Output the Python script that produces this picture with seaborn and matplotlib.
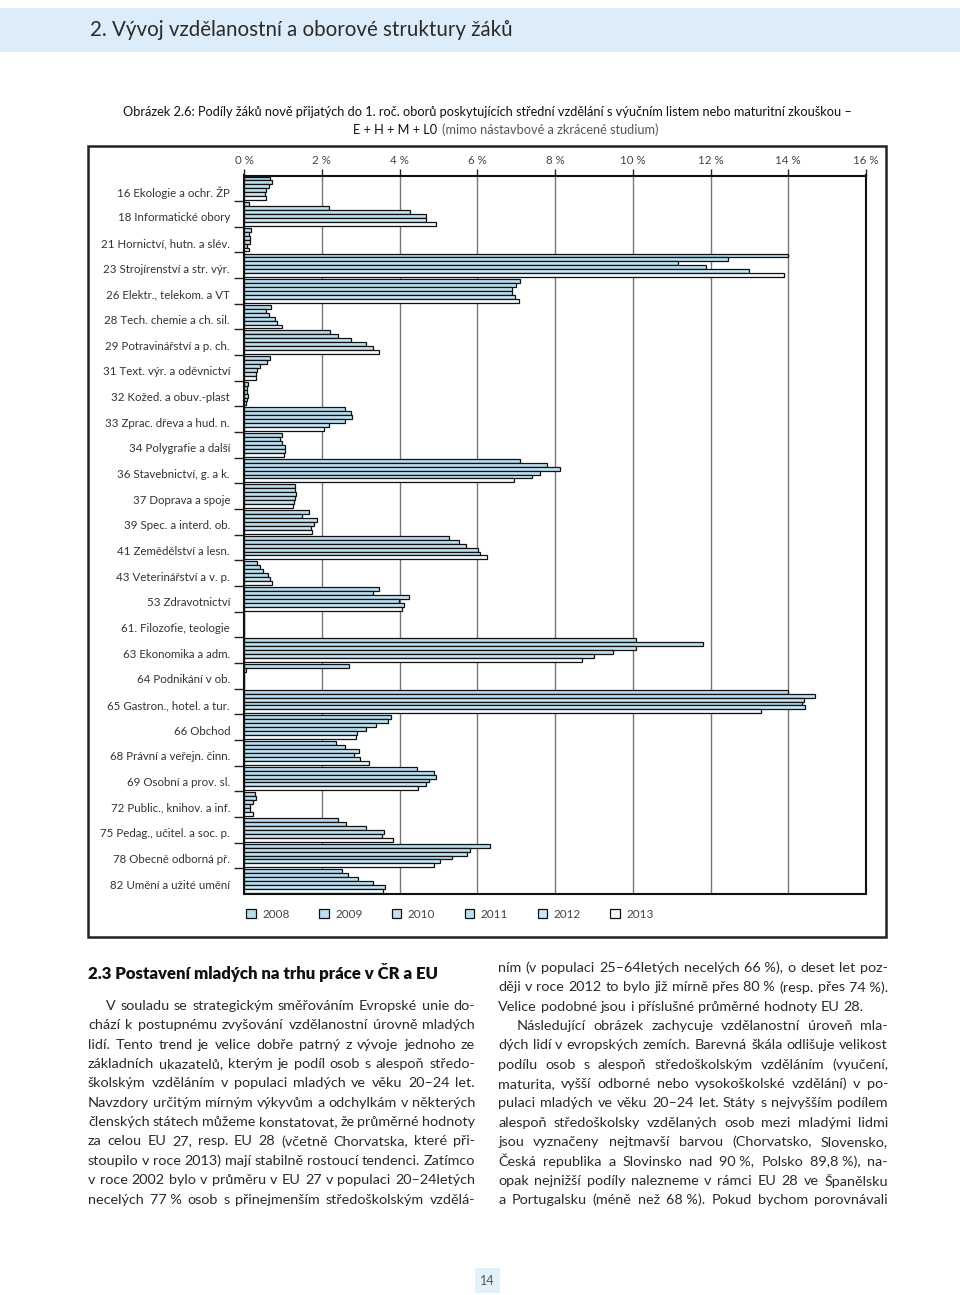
import matplotlib
matplotlib.use("Agg")
import matplotlib.pyplot as plt
import pandas as pd
import seaborn as sns
from matplotlib.patches import Rectangle
from matplotlib.transforms import ScaledTranslation

# --- data ---
obory = [
    "16 Ekologie a ochr. ŽP", "18 Informatické obory", "21 Hornictví, hutn. a slév.",
    "23 Strojírenství a str. výr.", "26 Elektr., telekom. a VT", "28 Tech. chemie a ch. sil.",
    "29 Potravinářství a p. ch.", "31 Text. výr. a oděvnictví", "32 Kožed. a obuv.-plast",
    "33 Zprac. dřeva a hud. n.", "34 Polygrafie a další", "36 Stavebnictví, g. a k.",
    "37 Doprava a spoje", "39 Spec. a interd. ob.", "41 Zemědělství a lesn.",
    "43 Veterinářství a v. p.", "53 Zdravotnictví", "61. Filozofie, teologie",
    "63 Ekonomika a adm.", "64 Podnikání v ob.", "65 Gastron., hotel. a tur.",
    "66 Obchod", "68 Právní a veřejn. činn.", "69 Osobní a prov. sl.",
    "72 Public., knihov. a inf.", "75 Pedag., učitel. a soc. p.", "78 Obecně odborná př.",
    "82 Umění a užité umění",
]
roky = ["2008", "2009", "2010", "2011", "2012", "2013"]

p2008 = [0.67, 0.13, 0.19, 14.0, 7.10, 0.69, 2.21, 0.67, 0.11, 2.60, 0.99, 7.10, 1.32, 1.68,
         5.27, 0.34, 3.48, 0.0, 10.08, 2.69, 14.0, 3.77, 2.36, 4.46, 0.29, 2.43, 6.32, 2.53]
p2009 = [0.72, 2.19, 0.13, 12.44, 7.00, 0.57, 2.42, 0.58, 0.085, 2.75, 0.92, 7.79, 1.30, 1.49,
         5.53, 0.41, 3.33, 0.0, 11.8, 0.04, 14.7, 3.71, 2.61, 4.88, 0.30, 2.63, 5.81, 2.67]
p2010 = [0.64, 4.28, 0.16, 11.16, 6.90, 0.64, 2.76, 0.42, 0.085, 2.79, 0.99, 8.12, 1.35, 1.87,
         5.71, 0.48, 4.24, 0.0, 10.08, 0.0, 14.4, 3.39, 2.96, 4.93, 0.24, 3.14, 5.74, 2.94]
p2011 = [0.57, 4.68, 0.15, 11.88, 6.90, 0.81, 3.13, 0.33, 0.095, 2.61, 1.06, 7.61, 1.31, 1.80,
         6.01, 0.62, 3.99, 0.0, 9.5, 0.0, 14.35, 3.15, 2.84, 4.76, 0.15, 3.59, 5.35, 3.33]
p2012 = [0.53, 4.68, 0.09, 13.0, 6.97, 0.85, 3.33, 0.32, 0.07, 2.19, 1.06, 7.40, 1.29, 1.72,
         6.07, 0.67, 4.11, 0.0, 9.0, 0.0, 14.42, 2.90, 2.99, 4.68, 0.16, 3.56, 5.04, 3.63]
p2013 = [0.57, 4.93, 0.13, 13.9, 7.07, 0.99, 3.48, 0.30, 0.05, 2.07, 1.03, 6.94, 1.26, 1.74,
         6.25, 0.72, 4.07, 0.0, 8.7, 0.0, 13.3, 2.87, 3.22, 4.48, 0.24, 3.82, 4.89, 3.57]

barvy = ["#b7dcef", "#bcdff1", "#c3e3f3", "#bcdff0", "#c8e6f5", "#f3f9fd"]

levy_sloupec = [
    "V souladu se strategickým směřováním Evropské unie do-",
    "chází k postupnému zvyšování vzdělanostní úrovně mladých",
    "lidí. Tento trend je velice dobře patrný z vývoje jednoho ze",
    "základních ukazatelů, kterým je podíl osob s alespoň středo-",
    "školským vzděláním v populaci mladých ve věku 20–24 let.",
    "Navzdory určitým mírným výkyvům a odchylkám v některých",
    "členských státech můžeme konstatovat, že průměrné hodnoty",
    "za celou EU 27, resp. EU 28 (včetně Chorvatska, které při-",
    "stoupilo v roce 2013) mají stabilně rostoucí tendenci. Zatímco",
    "v roce 2002 bylo v průměru v EU 27 v populaci 20–24letých",
    "necelých 77\u00a0% osob s přinejmenším středoškolským vzdělá-",
]
pravy_sloupec = [
    "ním (v populaci 25–64letých necelých 66\u00a0%), o deset let poz-",
    "ději v roce 2012 to bylo již mírně přes 80\u00a0% (resp. přes 74\u00a0%).",
    "Velice podobné jsou i příslušné průměrné hodnoty EU 28.",
    "Následující obrázek zachycuje vzdělanostní úroveň mla-",
    "dých lidí v evropských zemích. Barevná škála odlišuje velikost",
    "podílu osob s alespoň středoškolským vzděláním (vyučení,",
    "maturita, vyšší odborné nebo vysokoškolské vzdělání) v po-",
    "pulaci mladých ve věku 20–24 let. Státy s nejvyšším podílem",
    "alespoň středoškolsky vzdělaných osob mezi mladými lidmi",
    "jsou vyznačeny nejtmavší barvou (Chorvatsko, Slovensko,",
    "Česká republika a Slovinsko nad 90\u00a0%, Polsko 89,8\u00a0%), na-",
    "opak nejnižší podíly nalezneme v rámci EU 28 ve Španělsku",
    "a Portugalsku (méně než 68\u00a0%). Pokud bychom porovnávali",
]

W, H = 960, 1295
sns.set_theme(style="white")
plt.rcParams["font.family"] = ["Lato", "DejaVu Sans"]

df = pd.DataFrame({"obor": obory * 6,
                   "rok": sum([[r] * len(obory) for r in roky], []),
                   "podil": p2008 + p2009 + p2010 + p2011 + p2012 + p2013})

fig = plt.figure(figsize=(W / 100, H / 100), dpi=100)


def fx(x):
    return x / W


def fy(y):
    return 1 - y / H


# header band + page number
fig.add_artist(Rectangle((0, fy(52)), 1, 44 / H, transform=fig.transFigure,
                         color="#dcedf9", lw=0, zorder=0))
fig.text(fx(90), fy(30), "2. Vývoj vzdělanostní a oborové struktury žáků",
         fontsize=14.8, color="#2a2a2a", va="center")
fig.add_artist(Rectangle((fx(475), fy(1293)), 25 / W, 25 / H, transform=fig.transFigure,
                         color="#e2f0fa", lw=0))
fig.text(fx(487.5), fy(1281), "14", fontsize=9, color="#555", ha="center", va="center")

# caption
fig.text(fx(487), fy(112), "Obrázek 2.6: Podíly žáků nově přijatých do 1. roč. oborů poskytujících "
         "střední vzdělání s výučním listem nebo maturitní zkouškou –",
         fontsize=9.2, color="#111", ha="center", va="center")
fig.text(fx(437), fy(130), "E + H + M + L0", fontsize=9.2, color="#111", ha="right", va="center")
fig.text(fx(442), fy(130), "(mimo nástavbové a zkrácené studium)", fontsize=9.2,
         color="#555", ha="left", va="center")

# chart frame
fig.add_artist(Rectangle((fx(88), fy(937)), (886 - 88) / W, (937 - 146) / H,
                         transform=fig.transFigure, fill=False, lw=1.8, ec="#222"))

ax = fig.add_axes([fx(244), fy(894), (866 - 244) / W, (894 - 175.5) / H])
sns.barplot(data=df, x="podil", y="obor", hue="rok", orient="h", palette=barvy,
            saturation=1, edgecolor="#111", linewidth=0.9, width=0.92, gap=0, ax=ax)
ax.get_legend().remove()
ax.set_xlim(0, 16)
ax.set_ylim(len(obory) - 0.5, -0.5)
ax.set_xlabel("")
ax.set_ylabel("")
ax.xaxis.tick_top()
ax.set_xticks(range(0, 17, 2))
ax.set_xticklabels([f"{v} %" for v in range(0, 17, 2)], fontsize=8.3, color="#444")
ax.tick_params(axis="x", direction="out", length=5, width=1, color="#222", pad=2, top=True)
ax.grid(axis="x", color="#777", lw=1)
ax.set_axisbelow(True)
ax.set_yticks(range(len(obory)))
ax.set_yticklabels(obory, fontsize=8.3, color="#333")
ax.set_yticks([i + 0.5 for i in range(len(obory) - 1)], minor=True)
ax.tick_params(axis="y", which="major", length=0, pad=10)
ax.tick_params(axis="y", which="minor", length=7, width=1, color="#222", left=True)
off = ScaledTranslation(0, -0.03, fig.dpi_scale_trans)
for lbl in ax.get_yticklabels():
    lbl.set_transform(lbl.get_transform() + off)
for s in ax.spines.values():
    s.set_color("#111")
    s.set_linewidth(1.5)

handles, labels = ax.get_legend_handles_labels()
fig.legend(handles[:6], roky, loc="center", bbox_to_anchor=(fx(450), fy(914)), ncol=6,
           frameon=False, fontsize=8.5, handlelength=0.8, handleheight=0.8,
           handletextpad=0.55, columnspacing=2.5, labelcolor="#444")

# body text
fig.text(fx(88), fy(973), "2.3 Postavení mladých na trhu práce v ČR a EU",
         fontsize=12.1, fontweight="heavy", color="#111", va="center")

renderer = fig.canvas.get_renderer()


def radek(x0, x1, y, line, do_bloku=True):
    slova = line.split(" ")
    texty = [fig.text(0, fy(y), s, fontsize=10.4, color="#2a2a2a",
                      va="center") for s in slova]
    sirky = [t.get_window_extent(renderer).width for t in texty]
    if do_bloku and len(slova) > 1:
        mezera = (x1 - x0 - sum(sirky)) / (len(slova) - 1)
    else:
        mezera = 4.0
    x = x0
    for t, w in zip(texty, sirky):
        t.set_x(fx(x))
        x += w + mezera


for i, line in enumerate(levy_sloupec):
    radek(106 if i == 0 else 88, 475, 1006 + i * 19.35, line)
for i, line in enumerate(pravy_sloupec):
    radek(517 if i == 3 else 498, 888, 968 + i * 19.35, line, do_bloku=(i != 2))

fig.savefig("out.png", dpi=100)
